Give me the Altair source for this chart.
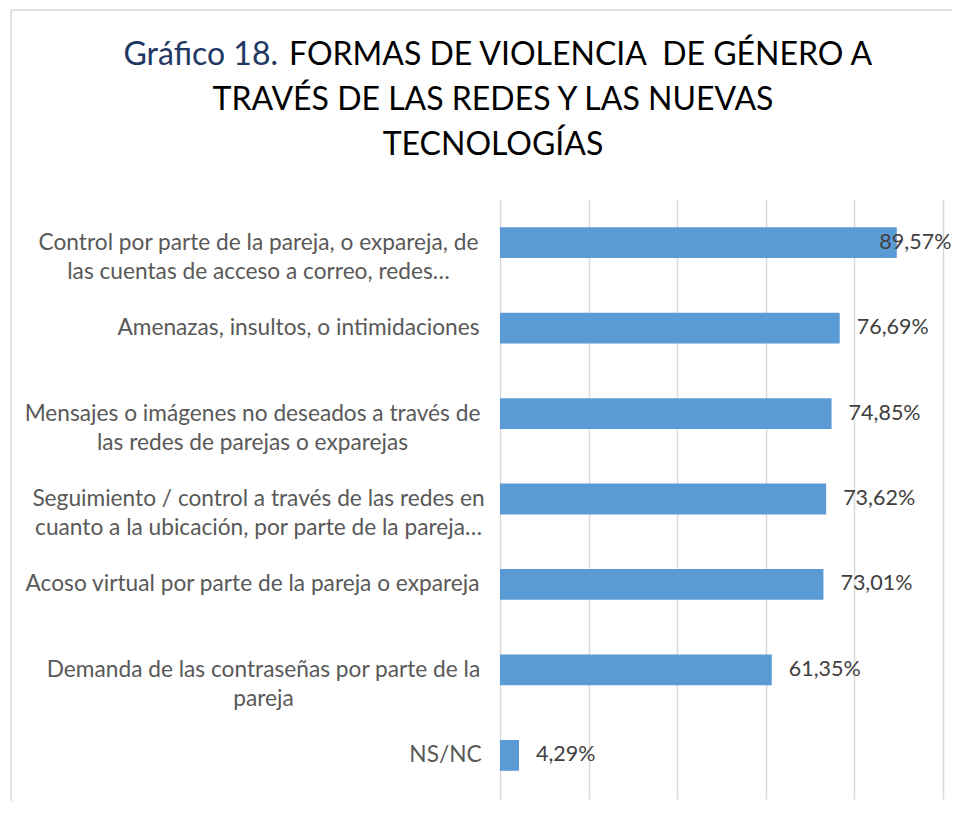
import altair as alt
import pandas as pd

# ---- data ----
categories = [
    "Control por parte de la pareja, o expareja, de|las cuentas de acceso a correo, redes…",
    "Amenazas, insultos, o intimidaciones",
    "Mensajes o imágenes no deseados a través de|las redes de parejas o exparejas",
    "Seguimiento / control a través de las redes en|cuanto a la ubicación, por parte de la pareja…",
    "Acoso virtual por parte de la pareja o expareja",
    "Demanda de las contraseñas por parte de la|pareja",
    "NS/NC",
]
values = [89.57, 76.69, 74.85, 73.62, 73.01, 61.35, 4.29]
value_labels = ["89,57%", "76,69%", "74,85%", "73,62%", "73,01%", "61,35%", "4,29%"]
x_ticks = [0, 20, 40, 60, 80, 100]

title_blue = ["Gráfico 18."]
title_black = ["FORMAS DE VIOLENCIA\u00a0 DE GÉNERO A"]
title_line2 = ["TRAVÉS DE LAS REDES Y LAS NUEVAS"]
title_line3 = ["TECNOLOGÍAS"]

# ---- layout (not data) ----
W, H = 443, 600
label_pad = [242, 202, 248, 242, 248, 237, 55]  # centre of each label block, px left of the axis
FONT = "Lato"
TFS = 32

df = pd.DataFrame({"cat": categories, "val": values, "txt": value_labels})

pad_expr = "[" + ",".join(str(p) for p in label_pad) + "][indexof([" + ",".join(
    "'" + c + "'" for c in categories) + "], datum.value)]"

y_enc = alt.Y(
    "cat:N", sort=categories, title=None,
    scale=alt.Scale(paddingInner=0.64, paddingOuter=0.33),
    axis=alt.Axis(
        labelExpr="split(datum.label, '|')",
        labelAlign="center", labelBaseline="middle",
        labelPadding=alt.ExprRef(expr=pad_expr),
        labelFont=FONT, labelFontSize=22.7, labelColor="#595959",
        labelLineHeight=29, labelLimit=0,
        ticks=False, domain=False, grid=False,
    ),
)

base = alt.Chart(df)

bars = base.mark_bar(color="#5B9BD5").encode(
    x=alt.X("val:Q", scale=alt.Scale(domain=[0, 100]), title=None,
            axis=alt.Axis(values=x_ticks, labels=False, ticks=False, domain=False,
                          grid=True, gridColor="#D9D9D9", gridWidth=1.5)),
    y=y_enc,
)

# labels sit just outside the bar end; the longest one is pulled back inside the frame
texts = base.transform_calculate(pos="min(datum.val, 81.8)").mark_text(
    align="left", baseline="middle", dx=17, font=FONT, fontSize=21.5, color="#404040"
).encode(
    x="pos:Q",
    y=alt.Y("cat:N", sort=categories),
    text="txt:N",
)

one = pd.DataFrame({"a": [0]})
frame_left = alt.Chart(one).mark_rule(color="#D9D9D9", strokeWidth=1.5).encode(
    x=alt.value(-489), y=alt.value(-189), y2=alt.value(800))
frame_top = alt.Chart(one).mark_rule(color="#D9D9D9", strokeWidth=1.5).encode(
    x=alt.value(-489), x2=alt.value(700), y=alt.value(-189))

t1 = alt.Chart(pd.DataFrame({"t": title_blue})).mark_text(
    align="right", baseline="alphabetic", font=FONT, fontSize=TFS, color="#1F3864"
).encode(x=alt.value(-222), y=alt.value(-134), text="t:N")

t2 = alt.Chart(pd.DataFrame({"t": title_black})).mark_text(
    align="left", baseline="alphabetic", font=FONT, fontSize=TFS, color="#000000"
).encode(x=alt.value(-211), y=alt.value(-134), text="t:N")

t3 = alt.Chart(pd.DataFrame({"t": title_line2})).mark_text(
    align="center", baseline="alphabetic", font=FONT, fontSize=TFS, color="#000000"
).encode(x=alt.value(-7), y=alt.value(-89), text="t:N")

t4 = alt.Chart(pd.DataFrame({"t": title_line3})).mark_text(
    align="center", baseline="alphabetic", font=FONT, fontSize=TFS, color="#000000"
).encode(x=alt.value(-7), y=alt.value(-44), text="t:N")

chart = alt.layer(frame_left, frame_top, bars, texts, t1, t2, t3, t4).properties(
    width=W, height=H,
    autosize=alt.AutoSizeParams(type="none"),
    padding={"left": 492, "top": 191, "right": 9, "bottom": 2},
    background="white",
).configure_view(stroke=None)

chart.save("out.html", embed_options={"renderer": "svg", "actions": False})
